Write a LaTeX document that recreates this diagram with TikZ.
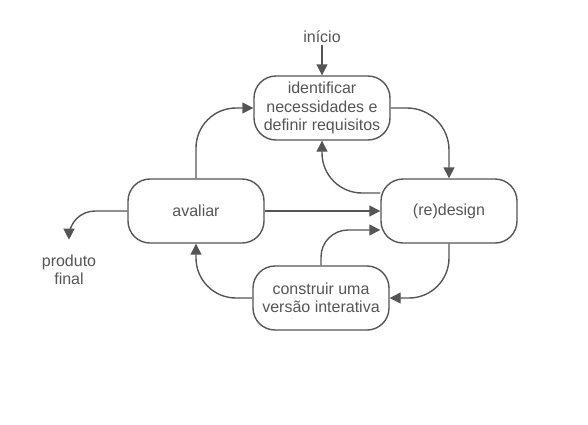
\documentclass[tikz,border=0pt]{standalone}
\usepackage{fontspec}
\setmainfont{Liberation Sans}
\usetikzlibrary{arrows.meta,positioning}
\definecolor{linha}{HTML}{555555}
\definecolor{texto}{HTML}{555555}

\begin{document}
\begin{tikzpicture}[x=1pt,y=-1pt,
    caixa/.style={draw=linha,line width=1.4pt,rounded corners=22pt,
      minimum width=136pt,minimum height=64pt,inner ysep=6pt,
      align=center,text=texto,font=\fontsize{16}{18.5}\selectfont},
    rotulo/.style={text=texto,align=center,inner sep=2pt,
      font=\fontsize{16}{18.5}\selectfont},
    seta/.style={draw=linha,line width=1.4pt,
      -{Triangle[length=11pt,width=11pt]}}]
\useasboundingbox (0,0) rectangle (588,424);
% caixas do ciclo
\node[caixa] (ident) at (322,108) {identificar\\necessidades e\\definir requisitos};
\node[caixa] (redesign) at (449,211) {(re)design};
\node[caixa] (construir) at (321,298) {construir uma\\vers\~ao interativa};
\node[caixa] (avaliar) at (196,211) {avaliar};
\node[rotulo] (inicio) at (322,37) {início};
\node[rotulo] (produto) at (69,270) {produto\\final};
% ligacoes
\draw[seta] (inicio) -- (ident);
\draw[seta,rounded corners=40pt] (avaliar.north) |- (ident.west);
\draw[seta,rounded corners=42pt] (ident.east) -| (redesign.north);
\draw[seta,rounded corners=40pt] ([yshift=18pt]redesign.west) -| (ident.south);
\draw[seta] (avaliar.east) -- (redesign.west);
\draw[seta,rounded corners=40pt] (redesign.south) |- (construir.east);
\draw[seta,rounded corners=27pt] (construir.north) |- ([yshift=-19pt]redesign.west);
\draw[seta,rounded corners=40pt] (construir.west) -| (avaliar.south);
\draw[seta,rounded corners=26pt,shorten >=13pt] (avaliar.west) -| (produto.north);
\end{tikzpicture}
\end{document}
